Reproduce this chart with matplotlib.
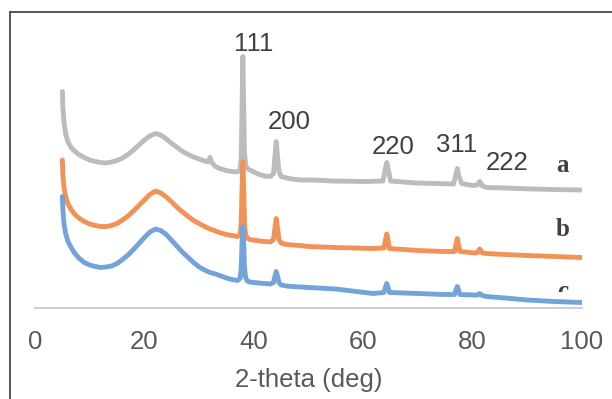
import matplotlib
matplotlib.use('Agg')
import matplotlib.pyplot as plt
from matplotlib.lines import Line2D
from matplotlib.patches import Rectangle

# leituras do grafico (2-theta em graus, intensidade em unidades arbitrarias)
tt_a = [5.0, 5.1, 5.3, 5.6, 6.0, 6.6, 7.3, 8.0, 9.0, 10.0, 11.0, 12.0, 13.0, 14.0,
        15.0, 16.0, 17.0, 18.0, 19.0, 20.0, 21.0, 22.0, 23.0, 24.0, 25.0, 26.0,
        27.0, 28.0, 29.0, 30.0, 31.0, 31.7, 32.0, 32.3, 33.0, 34.0, 35.0, 36.0,
        37.0, 37.5, 37.7, 37.85, 38.0, 38.15, 38.3, 38.5, 38.8, 39.3, 40.0, 41.0,
        42.0, 43.0, 43.6, 43.85, 44.1, 44.35, 44.6, 45.0, 46.0, 47.0, 48.5, 50.8,
        54.5, 60.6, 63.6, 63.95, 64.3, 64.65, 65.0, 69.8, 76.5, 76.9, 77.2, 77.5,
        78.0, 80.0, 80.9, 81.3, 81.8, 82.6, 86.0, 91.0, 95.0, 100.0]
int_a = [216, 200, 185, 174, 166, 160, 156, 153, 150, 147.5, 146, 145, 144.5, 145.5,
         147, 149.5, 153, 157.5, 162.5, 167.5, 171.5, 174, 172.5, 168.5, 164, 160,
         156, 153, 150.5, 148.5, 146.5, 145.5, 150, 145, 141, 138.5, 137, 136,
         135.5, 138, 150, 200, 251, 200, 155, 143, 139, 137.5, 135.5, 133,
         131.5, 131, 134, 150, 166, 150, 136, 131, 129.5, 128.5, 127.5, 127.5,
         126.5, 126, 126.5, 136, 145, 136, 126.5, 124.5, 123.5, 132, 139, 131,
         124, 122, 122.5, 126, 121.5, 120, 119.5, 118.5, 118, 117.5]

tt_b = [5.0, 5.1, 5.3, 5.6, 6.0, 6.6, 7.3, 8.0, 9.0, 10.0, 11.0, 12.0, 13.0, 14.0,
        15.0, 16.0, 17.0, 18.0, 19.0, 20.0, 21.0, 22.0, 23.0, 24.0, 25.0, 26.0,
        27.0, 28.0, 29.0, 30.0, 31.0, 32.0, 33.0, 34.0, 35.0, 36.0, 37.0, 37.5,
        37.7, 37.85, 38.0, 38.15, 38.3, 38.5, 38.8, 39.3, 40.0, 41.0, 42.0, 43.0,
        43.6, 43.85, 44.1, 44.35, 44.6, 45.0, 46.0, 47.0, 48.5, 50.0, 55.0, 61.8,
        63.8, 64.05, 64.3, 64.55, 64.8, 70.0, 74.6, 76.7, 76.95, 77.2, 77.45, 77.7,
        80.5, 80.9, 81.3, 81.8, 82.5, 86.0, 90.0, 95.0, 100.0]
int_b = [147.5, 133, 120, 111, 104, 98, 93, 89.5, 86, 83.5, 82, 81, 81, 82,
         84, 87.5, 91.5, 96.5, 102, 107.5, 113, 116.5, 114.5, 110.5, 105.5, 100,
         95.5, 91, 87, 84, 81, 78.5, 76.5, 74.5, 73, 72, 71, 73,
         85, 120, 146, 120, 85, 73, 69.5, 68, 67.5, 66.5, 66, 65.5,
         68, 79, 89, 79, 68, 64.5, 63, 62.5, 62, 61, 60, 59,
         59.5, 67, 73.5, 67, 59, 57, 56, 56, 63, 69, 62, 56,
         54.5, 55, 58.5, 54.5, 54, 53, 52, 51, 50]

tt_c = [5.0, 5.1, 5.3, 5.6, 6.0, 6.6, 7.3, 8.0, 9.0, 10.0, 11.0, 12.0, 13.0, 14.0,
        15.0, 16.0, 17.0, 18.0, 19.0, 20.0, 21.0, 22.0, 23.0, 24.0, 25.0, 26.0,
        27.0, 28.0, 29.0, 30.0, 31.0, 32.0, 33.0, 34.0, 35.0, 36.0, 37.0, 37.5,
        37.7, 37.85, 38.0, 38.15, 38.3, 38.5, 38.8, 39.3, 40.0, 41.0, 42.0, 43.0,
        43.6, 43.85, 44.1, 44.35, 44.6, 45.0, 46.0, 47.0, 48.5, 50.0, 55.0, 61.8,
        63.8, 64.05, 64.3, 64.55, 64.8, 70.0, 74.6, 76.7, 76.95, 77.2, 77.45, 77.7,
        80.5, 80.9, 81.3, 81.8, 82.5, 86.0, 90.0, 95.0, 100.0]
int_c = [111, 97, 84, 74, 66.5, 60, 54, 49.5, 45, 42.5, 41, 40, 40.5, 41.5,
         44, 48, 52.5, 58, 64, 70, 75.5, 78.5, 77, 73, 67, 61,
         55, 50, 45, 40.5, 37.5, 35, 33.5, 31.5, 29.5, 28, 27, 29,
         40, 65, 81, 65, 40, 30, 26.5, 25.5, 25, 24.5, 24, 23.5,
         25, 31, 36, 31, 25, 22.5, 21.5, 21, 20.5, 20, 18.5, 14,
         15, 20, 24, 20, 15, 14, 13, 13, 17.5, 21, 17, 13,
         12.5, 12.5, 14, 12, 11, 9.5, 7.5, 6, 5]

# indices (hkl) e posicao do texto
hkl_labels = ['111', '200', '220', '311', '222']
hkl_x = [39.9, 46.4, 65.4, 77.1, 86.3]
hkl_y = [263.5, 185.5, 160.5, 162.5, 144.5]

amostras = ['a', 'b', 'c']
amostra_y = [142.5, 78.5, 16.5]


x_ticks = [0, 20, 40, 60, 80, 100]


def main():
    fig = plt.figure(figsize=(6.12, 3.99), dpi=100)
    ax = fig.add_axes([0.0572, 0.2293, 0.8938, 0.7268])

    ax.plot(tt_a, int_a, color='#bcbcc0', lw=3.5, solid_capstyle='round',
            solid_joinstyle='round', zorder=3)
    ax.plot(tt_b, int_b, color='#f39257', lw=3.5, solid_capstyle='round',
            solid_joinstyle='round', zorder=4)
    ax.plot(tt_c, int_c, color='#72a4da', lw=3.5, solid_capstyle='round',
            solid_joinstyle='round', zorder=5)

    for lab, x, y in zip(hkl_labels, hkl_x, hkl_y):
        ax.text(x, y, lab, ha='center', va='center', fontsize=18.5,
                family='Liberation Sans', color='#404040')

    # o "c" aparece cortado na figura original
    corte = Rectangle((85, 16), 20, 300, transform=ax.transData,
                      facecolor='none', edgecolor='none')
    ax.add_patch(corte)
    for lab, y in zip(amostras, amostra_y):
        t = ax.text(96.5, y, lab, ha='center', va='center', fontsize=18,
                    family='Liberation Serif', fontweight='bold', color='#404040',
                    zorder=2, clip_on=True)
        t.set_clip_path(corte)

    ax.set_xlim(0, 100)
    ax.set_ylim(0, 290)
    ax.set_xticks(x_ticks)
    ax.set_xticklabels([str(v) for v in x_ticks], family='Liberation Sans',
                       fontsize=18.5, color='#595959')
    ax.set_yticks([])
    ax.tick_params(axis='x', length=0, pad=16)
    ax.set_xlabel('2-theta (deg)', family='Liberation Sans', fontsize=18.5,
                  color='#595959', labelpad=10)

    for s in ['top', 'left', 'right']:
        ax.spines[s].set_visible(False)
    ax.spines['bottom'].set_color('#d0d0d0')
    ax.spines['bottom'].set_linewidth(1.5)
    ax.patch.set_alpha(0)

    # moldura (so aparecem os lados esquerdo e de cima)
    fig.add_artist(Line2D([0.0158, 0.0158], [-0.1, 0.969], transform=fig.transFigure,
                          color='#4a4a4a', lw=1.3))
    fig.add_artist(Line2D([0.0158, 1.1], [0.969, 0.969], transform=fig.transFigure,
                          color='#4a4a4a', lw=1.3))

    fig.savefig('out.png', dpi=100)


if __name__ == '__main__':
    main()
